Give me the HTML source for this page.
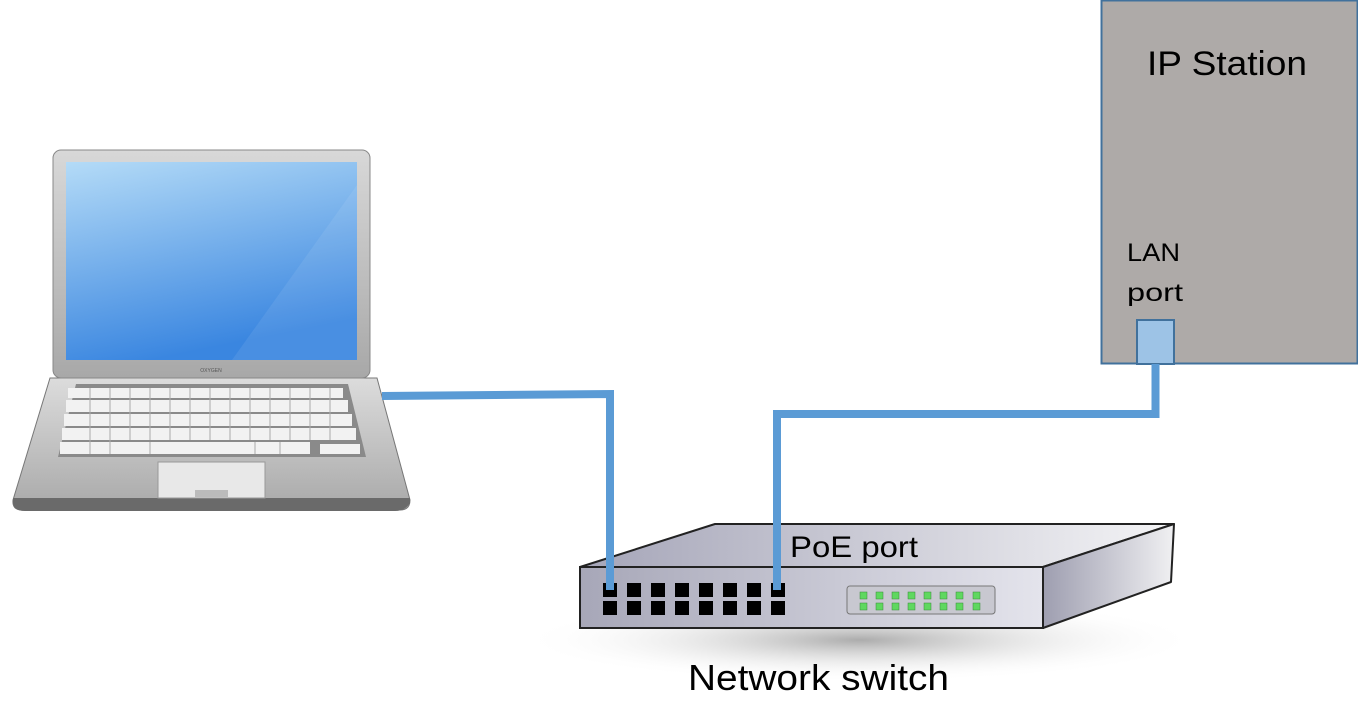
<!DOCTYPE html>
<html><head><style>html,body{margin:0;padding:0;background:#fff;width:1358px;height:727px;overflow:hidden}</style></head>
<body>
<svg width="1358" height="727" viewBox="0 0 1358 727" xmlns="http://www.w3.org/2000/svg" font-family="'Liberation Sans','DejaVu Sans',sans-serif">
<defs>
<linearGradient id="scr" x1="0" y1="0" x2="0.3" y2="1"><stop offset="0" stop-color="#b4dbf7"/><stop offset="1" stop-color="#3a86e0"/></linearGradient>
<linearGradient id="lid" x1="0" y1="0" x2="0" y2="1"><stop offset="0" stop-color="#d8d8d8"/><stop offset="1" stop-color="#a8a8a8"/></linearGradient>
<linearGradient id="base" x1="0" y1="0" x2="0" y2="1"><stop offset="0" stop-color="#dcdcdc"/><stop offset="1" stop-color="#a9a9a9"/></linearGradient>
<linearGradient id="front" x1="0" y1="0" x2="1" y2="0"><stop offset="0" stop-color="#a7a7b8"/><stop offset="1" stop-color="#e4e4ec"/></linearGradient>
<linearGradient id="top" x1="0" y1="0" x2="1" y2="0"><stop offset="0" stop-color="#a5a5b8"/><stop offset="1" stop-color="#f4f4f6"/></linearGradient>
<linearGradient id="side" x1="0" y1="0" x2="1" y2="0"><stop offset="0" stop-color="#9e9eb0"/><stop offset="1" stop-color="#f0f0f2"/></linearGradient>
<radialGradient id="shd" cx="0.5" cy="0.5" r="0.5"><stop offset="0" stop-color="#888" stop-opacity="0.7"/><stop offset="1" stop-color="#fff" stop-opacity="0"/></radialGradient>
</defs>
<!-- IP station -->
<rect x="1101.5" y="0.5" width="256" height="363" fill="#aeaaa8" stroke="#41719c" stroke-width="2"/>
<text x="1147" y="75" font-size="34" textLength="160" lengthAdjust="spacingAndGlyphs" fill="#000">IP Station</text>
<text x="1127" y="261" font-size="25" textLength="53" lengthAdjust="spacingAndGlyphs" fill="#000">LAN</text>
<text x="1127" y="301" font-size="25" textLength="56" lengthAdjust="spacingAndGlyphs" fill="#000">port</text>
<rect x="1137" y="320" width="37" height="44" fill="#9dc3e6" stroke="#41719c" stroke-width="2"/>
<!-- laptop -->
<path d="M50 378 L377 378 L410 500 Q410 510 400 510 L22 510 Q12 510 13 500 Z" fill="url(#base)" stroke="#777" stroke-width="1"/>
<path d="M13 498 L410 498 L410 503 Q405 511 395 511 L25 511 Q14 511 13 503Z" fill="#6a6a6a"/>
<rect x="53" y="150" width="317" height="228" rx="8" fill="url(#lid)" stroke="#888"/>
<rect x="66" y="162" width="291" height="198" fill="url(#scr)"/>
<path d="M232 360 L357 185 L357 360Z" fill="#fff" opacity="0.08"/>
<text x="211" y="372" font-size="5" text-anchor="middle" fill="#555">OXYGEN</text>
<path d="M76 384 L348 384 L366 457 L58 457Z" fill="#8a8a8a"/>
<g fill="#f2f2f2">
<rect x="68" y="388" width="275" height="10"/>
<rect x="66" y="400" width="282" height="12"/>
<rect x="64" y="414" width="288" height="12"/>
<rect x="62" y="428" width="294" height="12"/>
<rect x="60" y="442" width="250" height="12"/>
<rect x="320" y="444" width="40" height="10"/>
</g>
<g stroke="#aaa" stroke-width="1">
<path d="M90 388V454M110 388V454M130 388V440M150 388V440M170 388V440M190 388V440M210 388V440M230 388V440M250 388V440M270 388V440M290 388V440M310 388V440M330 388V440M150 442V454M255 442V454M280 442V454"/>
</g>
<rect x="158" y="462" width="107" height="36" fill="#e8e8e8" stroke="#999"/>
<rect x="195" y="490" width="33" height="7" fill="#bbb"/>
<!-- switch shadow -->
<ellipse cx="860" cy="640" rx="340" ry="42" fill="url(#shd)"/>
<!-- switch -->
<path d="M580 567 L715 524 L1174 524 L1043 567Z" fill="url(#top)" stroke="#222" stroke-width="2" stroke-linejoin="round"/>
<path d="M1043 567 L1174 524 L1171 582 L1043 628Z" fill="url(#side)" stroke="#222" stroke-width="2" stroke-linejoin="round"/>
<rect x="580" y="567" width="463" height="61" fill="url(#front)" stroke="#222" stroke-width="2"/>
<g fill="#000">
<rect x="603" y="583" width="14" height="14"/><rect x="627" y="583" width="14" height="14"/><rect x="651" y="583" width="14" height="14"/><rect x="675" y="583" width="14" height="14"/><rect x="699" y="583" width="14" height="14"/><rect x="723" y="583" width="14" height="14"/><rect x="747" y="583" width="14" height="14"/><rect x="771" y="583" width="14" height="14"/>
<rect x="603" y="601" width="14" height="14"/><rect x="627" y="601" width="14" height="14"/><rect x="651" y="601" width="14" height="14"/><rect x="675" y="601" width="14" height="14"/><rect x="699" y="601" width="14" height="14"/><rect x="723" y="601" width="14" height="14"/><rect x="747" y="601" width="14" height="14"/><rect x="771" y="601" width="14" height="14"/>
</g>
<rect x="847" y="586" width="148" height="28" rx="3" fill="#c8c8d0" stroke="#777"/>
<g fill="#5fd85f" stroke="#3a8a3a" stroke-width="0.5">
<rect x="860" y="592" width="7" height="7"/><rect x="876" y="592" width="7" height="7"/><rect x="892" y="592" width="7" height="7"/><rect x="908" y="592" width="7" height="7"/><rect x="924" y="592" width="7" height="7"/><rect x="940" y="592" width="7" height="7"/><rect x="956" y="592" width="7" height="7"/><rect x="973" y="592" width="7" height="7"/>
<rect x="860" y="603" width="7" height="7"/><rect x="876" y="603" width="7" height="7"/><rect x="892" y="603" width="7" height="7"/><rect x="908" y="603" width="7" height="7"/><rect x="924" y="603" width="7" height="7"/><rect x="940" y="603" width="7" height="7"/><rect x="956" y="603" width="7" height="7"/><rect x="973" y="603" width="7" height="7"/>
</g>
<!-- cables -->
<polyline points="382,396 610,394 610,590" fill="none" stroke="#5b9bd5" stroke-width="8"/>
<polyline points="777,590 777,414 1155.5,414 1155.5,364" fill="none" stroke="#5b9bd5" stroke-width="8"/>
<text x="790" y="557" font-size="30" textLength="128" lengthAdjust="spacingAndGlyphs" fill="#000">PoE port</text>
<text x="688" y="690" font-size="36" textLength="261" lengthAdjust="spacingAndGlyphs" fill="#000">Network switch</text>
</svg>
</body></html>
